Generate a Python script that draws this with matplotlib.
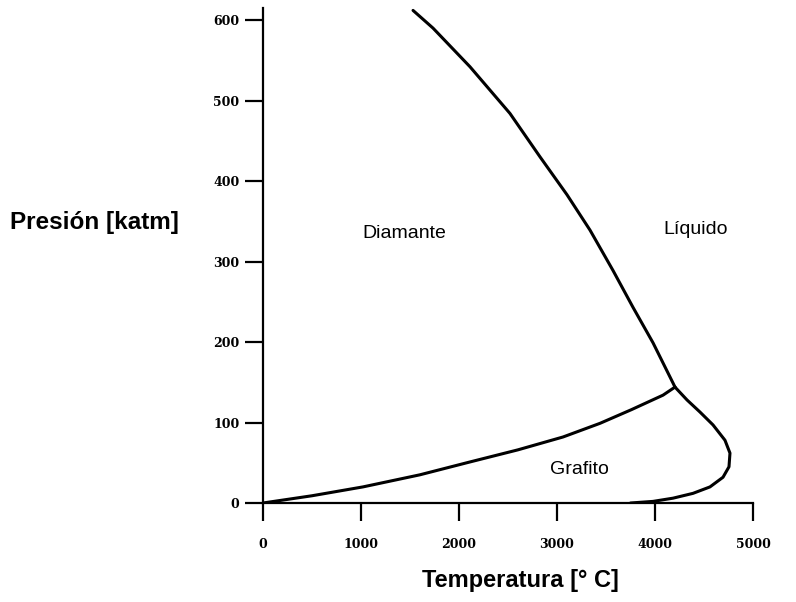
import matplotlib
matplotlib.use("Agg")
import matplotlib.pyplot as plt

# Phase boundaries of carbon
# diamond / liquid
melt_T = [1531, 1735, 2112, 2520, 2827, 3102, 3337, 3571, 3776, 3980, 4184, 4204]
melt_P = [612, 590, 542, 484, 430, 383, 339, 289, 243, 199, 149, 144]

# graphite / diamond
gd_T = [0, 500, 1020, 1600, 2112, 2600, 3061, 3439, 3760, 4082, 4204]
gd_P = [0, 9, 20, 35, 51, 66, 82, 99, 116, 134, 144]

# graphite / liquid
gl_T = [4204, 4327, 4459, 4592, 4714, 4765, 4755, 4694, 4561, 4388, 4184, 3980, 3750]
gl_P = [144, 128, 113, 97, 78, 62, 45, 32, 20, 12, 6, 2, 0]

regions = ["Diamante", "Líquido", "Grafito"]
region_T = [1011, 4086, 2932]
region_P = [335, 340, 42]

x_ticks = [0, 1000, 2000, 3000, 4000, 5000]
y_ticks = [0, 100, 200, 300, 400, 500, 600]

fig = plt.figure(figsize=(7.96, 6.02), dpi=100)
ax = fig.add_axes([263 / 796, 1 - 503 / 602, 490 / 796, 495 / 602])

for T, P in [(melt_T, melt_P), (gd_T, gd_P), (gl_T, gl_P)]:
    ax.plot(T, P, color="black", linewidth=2.2, solid_capstyle="round",
            solid_joinstyle="round")

for name, t, p in zip(regions, region_T, region_P):
    ax.text(t, p, name, ha="left", va="center", fontsize=14,
            family="Liberation Sans", color="black")

ax.set_xlim(0, 5000)
ax.set_ylim(0, 615)
ax.set_xticks(x_ticks)
ax.set_yticks(y_ticks)
ax.set_xticklabels([str(v) for v in x_ticks], family="DejaVu Serif",
                   fontweight="bold", fontsize=9)
ax.set_yticklabels([str(v) for v in y_ticks], family="DejaVu Serif",
                   fontweight="bold", fontsize=9)

ax.spines["top"].set_visible(False)
ax.spines["right"].set_visible(False)
ax.spines["left"].set_linewidth(1.6)
ax.spines["bottom"].set_linewidth(1.6)
ax.tick_params(axis="both", direction="out", length=13, width=1.6, color="black")
ax.tick_params(axis="x", pad=12)
ax.tick_params(axis="y", pad=4)

fig.text(94 / 796, 1 - 222 / 602, "Presión [katm]", ha="center", va="center",
         fontsize=17.5, fontweight="bold", family="Liberation Sans")
fig.text(520 / 796, 1 - 580 / 602, "Temperatura [° C]", ha="center", va="center",
         fontsize=17, fontweight="bold", family="Liberation Sans")

fig.savefig("out.png", dpi=100)
